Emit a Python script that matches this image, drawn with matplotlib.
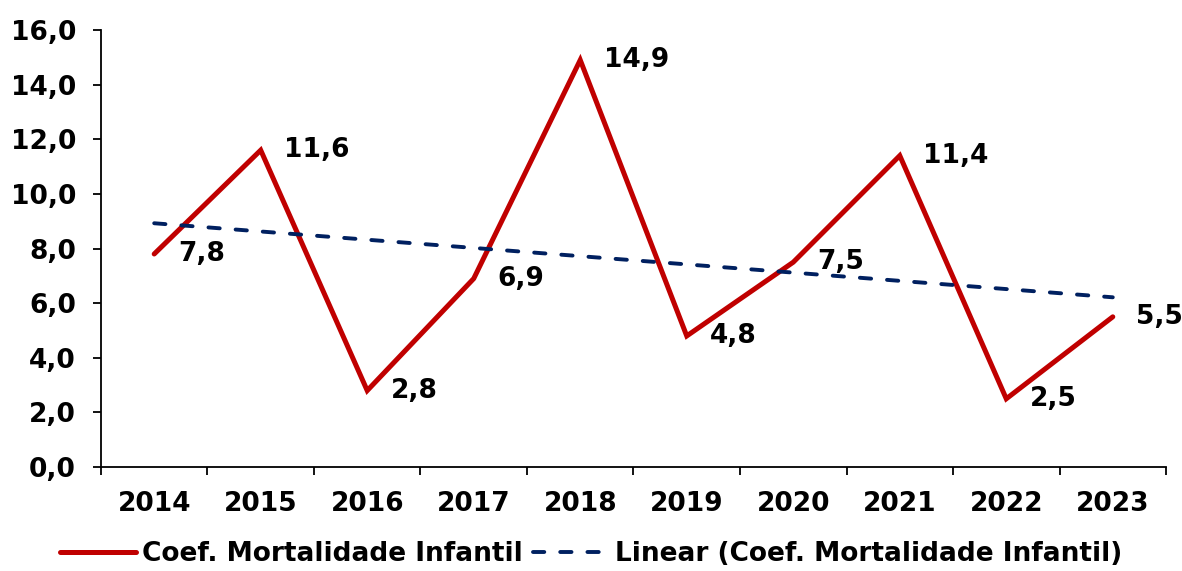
import numpy as np
import matplotlib.pyplot as plt
from matplotlib.ticker import FuncFormatter, FixedLocator

# Data
years = ['2014', '2015', '2016', '2017', '2018', '2019', '2020', '2021', '2022', '2023']
coef = [7.8, 11.6, 2.8, 6.9, 14.9, 4.8, 7.5, 11.4, 2.5, 5.5]

plt.rcParams['font.family'] = ['DejaVu Sans']
plt.rcParams['font.weight'] = 'bold'
fs = 19

fig = plt.figure(figsize=(11.82, 5.71), dpi=100)
ax = fig.add_axes([0.0854, 0.182, 0.9011, 0.7655])

x = np.arange(len(years))
line, = ax.plot(x, coef, color='#C00000', lw=3.6, solid_joinstyle='miter',
                solid_capstyle='round', label='Coef. Mortalidade Infantil')

# linear trendline, as in Excel
m, b = np.polyfit(x, coef, 1)
trend, = ax.plot(x, m * x + b, color='#002060', lw=2.8, ls=(0, (2.9, 4.1)),
                 dash_capstyle='round', label='Linear (Coef. Mortalidade Infantil)')

for xi, v in zip(x, coef):
    ax.annotate(f'{v:.1f}'.replace('.', ','), (xi, v), xytext=(17, 0),
                textcoords='offset points', ha='left', va='center',
                fontsize=fs, fontweight='bold')

ax.set_xlim(-0.5, len(years) - 0.5)
ax.set_ylim(0, 16)
ax.set_yticks(np.arange(0, 17, 2))
ax.yaxis.set_major_formatter(FuncFormatter(lambda v, p: f'{v:.1f}'.replace('.', ',')))

# category axis: tick marks between categories, labels at centres
ax.xaxis.set_major_locator(FixedLocator(np.arange(-0.5, len(years), 1)))
ax.xaxis.set_minor_locator(FixedLocator(x))
ax.set_xticklabels([])
ax.set_xticklabels(years, minor=True)
ax.tick_params(axis='x', which='major', length=6, width=1.3, direction='out')
ax.tick_params(axis='x', which='minor', length=0, pad=17, labelsize=fs)
ax.tick_params(axis='y', length=6, width=1.3, direction='out', pad=12, labelsize=fs)
for lab in ax.get_xticklabels(minor=True) + ax.get_yticklabels():
    lab.set_fontweight('bold')

ax.spines['top'].set_visible(False)
ax.spines['right'].set_visible(False)
ax.spines['left'].set_linewidth(1.3)
ax.spines['bottom'].set_linewidth(1.3)

fig.legend(handles=[line, trend], loc='lower center', ncol=2, frameon=False,
           bbox_to_anchor=(0.5, -0.035), handlelength=2.9,
           handletextpad=0.2, columnspacing=0.4, prop={'weight': 'bold', 'size': fs})

fig.savefig('out.png', dpi=100)
